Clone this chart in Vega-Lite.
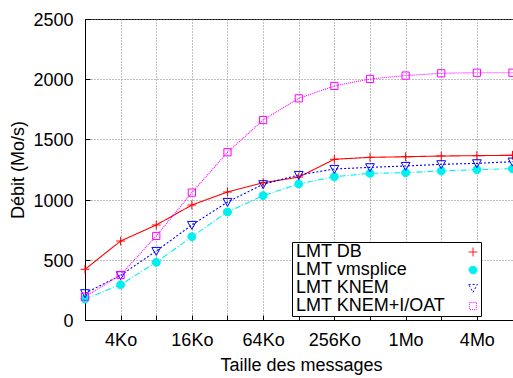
{
  "$schema": "https://vega.github.io/schema/vega-lite/v6.json",
  "width": 432,
  "height": 301,
  "autosize": {"type": "none"},
  "padding": {"left": 85, "top": 19, "right": 0, "bottom": 58},
  "config": {
    "font": "Liberation Sans",
    "view": {"stroke": "black", "strokeWidth": 1},
    "axis": {
      "labelFont": "Liberation Sans",
      "labelFontSize": 18,
      "labelColor": "black",
      "titleFont": "Liberation Sans",
      "titleFontSize": 18,
      "titleFontWeight": "normal",
      "titleColor": "black",
      "domainColor": "black",
      "tickColor": "black",
      "tickSize": -5,
      "grid": true,
      "gridColor": "#808080",
      "gridDash": [1, 2],
      "gridWidth": 1
    }
  },
  "data": {
    "values": [
      {"s": "LMT DB", "x": 2, "y": 421}, {"s": "LMT DB", "x": 4, "y": 656}, {"s": "LMT DB", "x": 8, "y": 789}, {"s": "LMT DB", "x": 16, "y": 955}, {"s": "LMT DB", "x": 32, "y": 1063}, {"s": "LMT DB", "x": 64, "y": 1140}, {"s": "LMT DB", "x": 128, "y": 1187}, {"s": "LMT DB", "x": 256, "y": 1335}, {"s": "LMT DB", "x": 512, "y": 1351}, {"s": "LMT DB", "x": 1024, "y": 1356}, {"s": "LMT DB", "x": 2048, "y": 1362}, {"s": "LMT DB", "x": 4096, "y": 1365}, {"s": "LMT DB", "x": 8192, "y": 1368},
      {"s": "LMT vmsplice", "x": 2, "y": 174}, {"s": "LMT vmsplice", "x": 4, "y": 293}, {"s": "LMT vmsplice", "x": 8, "y": 479}, {"s": "LMT vmsplice", "x": 16, "y": 692}, {"s": "LMT vmsplice", "x": 32, "y": 897}, {"s": "LMT vmsplice", "x": 64, "y": 1033}, {"s": "LMT vmsplice", "x": 128, "y": 1130}, {"s": "LMT vmsplice", "x": 256, "y": 1190}, {"s": "LMT vmsplice", "x": 512, "y": 1218}, {"s": "LMT vmsplice", "x": 1024, "y": 1224}, {"s": "LMT vmsplice", "x": 2048, "y": 1238}, {"s": "LMT vmsplice", "x": 4096, "y": 1248}, {"s": "LMT vmsplice", "x": 8192, "y": 1257},
      {"s": "LMT KNEM", "x": 2, "y": 222}, {"s": "LMT KNEM", "x": 4, "y": 371}, {"s": "LMT KNEM", "x": 8, "y": 573}, {"s": "LMT KNEM", "x": 16, "y": 789}, {"s": "LMT KNEM", "x": 32, "y": 980}, {"s": "LMT KNEM", "x": 64, "y": 1127}, {"s": "LMT KNEM", "x": 128, "y": 1204}, {"s": "LMT KNEM", "x": 256, "y": 1254}, {"s": "LMT KNEM", "x": 512, "y": 1268}, {"s": "LMT KNEM", "x": 1024, "y": 1279}, {"s": "LMT KNEM", "x": 2048, "y": 1293}, {"s": "LMT KNEM", "x": 4096, "y": 1301}, {"s": "LMT KNEM", "x": 8192, "y": 1315},
      {"s": "LMT KNEM+I/OAT", "x": 2, "y": 194}, {"s": "LMT KNEM+I/OAT", "x": 4, "y": 374}, {"s": "LMT KNEM+I/OAT", "x": 8, "y": 698}, {"s": "LMT KNEM+I/OAT", "x": 16, "y": 1058}, {"s": "LMT KNEM+I/OAT", "x": 32, "y": 1393}, {"s": "LMT KNEM+I/OAT", "x": 64, "y": 1661}, {"s": "LMT KNEM+I/OAT", "x": 128, "y": 1841}, {"s": "LMT KNEM+I/OAT", "x": 256, "y": 1944}, {"s": "LMT KNEM+I/OAT", "x": 512, "y": 2002}, {"s": "LMT KNEM+I/OAT", "x": 1024, "y": 2030}, {"s": "LMT KNEM+I/OAT", "x": 2048, "y": 2049}, {"s": "LMT KNEM+I/OAT", "x": 4096, "y": 2054}, {"s": "LMT KNEM+I/OAT", "x": 8192, "y": 2054}
    ]
  },
  "encoding": {
    "x": {
      "field": "x", "type": "quantitative",
      "scale": {"type": "log", "base": 2, "domain": [2, 8943], "nice": false},
      "axis": {
        "title": "Taille des messages",
        "values": [4, 8, 16, 32, 64, 128, 256, 512, 1024, 2048, 4096],
        "labelExpr": "indexof([4,16,64,256,1024,4096], datum.value) >= 0 ? (datum.value >= 1024 ? (datum.value/1024) + 'Mo' : datum.value + 'Ko') : ''",
        "labelPadding": 16,
        "labelFlush": false,
        "labelOverlap": false,
        "titlePadding": 7
      }
    },
    "y": {
      "field": "y", "type": "quantitative",
      "scale": {"domain": [0, 2500], "nice": false},
      "axis": {
        "title": "Débit (Mo/s)",
        "format": "d",
        "values": [0, 500, 1000, 1500, 2000, 2500],
        "labelPadding": 17,
        "labelOffset": 1.5,
        "titlePadding": 5
      }
    }
  },
  "layer": [
    {
      "mark": {"type": "line", "strokeWidth": 1.1},
      "encoding": {
        "color": {
          "field": "s", "type": "nominal",
          "scale": {"domain": ["LMT DB", "LMT vmsplice", "LMT KNEM", "LMT KNEM+I/OAT"], "range": ["#ff0000", "#00f0f0", "#0000ff", "#ff00ff"]},
          "legend": {
            "title": null,
            "orient": "none",
            "legendX": 207,
            "legendY": 223,
            "strokeColor": "black",
            "fillColor": "white",
            "padding": 1,
            "rowPadding": 0,
            "labelFont": "Liberation Sans",
            "labelFontSize": 18,
            "labelColor": "black",
            "symbolSize": 64,
            "symbolOffset": 171,
            "labelOffset": -186,
            "symbolStrokeWidth": 1
          }
        },
        "strokeDash": {
          "field": "s", "type": "nominal",
          "scale": {"domain": ["LMT DB", "LMT vmsplice", "LMT KNEM", "LMT KNEM+I/OAT"], "range": [[1, 0], [6, 2, 1, 2], [2, 2], [1, 1]]},
          "legend": null
        }
      }
    },
    {
      "mark": {"type": "point", "size": 64, "strokeWidth": 1, "opacity": 1},
      "encoding": {
        "stroke": {
          "field": "s", "type": "nominal",
          "scale": {"domain": ["LMT DB", "LMT vmsplice", "LMT KNEM", "LMT KNEM+I/OAT"], "range": ["#ff0000", "#00f0f0", "#0000ff", "#ff00ff"]},
          "legend": null
        },
        "fill": {
          "field": "s", "type": "nominal",
          "scale": {"domain": ["LMT DB", "LMT vmsplice", "LMT KNEM", "LMT KNEM+I/OAT"], "range": ["transparent", "#00f0f0", "transparent", "transparent"]},
          "legend": null
        },
        "shape": {
          "field": "s", "type": "nominal",
          "scale": {"domain": ["LMT DB", "LMT vmsplice", "LMT KNEM", "LMT KNEM+I/OAT"], "range": ["M-1.1,0H1.1M0,-1.1V1.1", "M1,0A1,1 0 1,1 -1,0A1,1 0 1,1 1,0Z", "M-1.1,-0.9L1.1,-0.9L0,1.1Z", "M-0.9,-0.9H0.9V0.9H-0.9Z"]},
          "legend": null
        }
      }
    }
  ]
}
